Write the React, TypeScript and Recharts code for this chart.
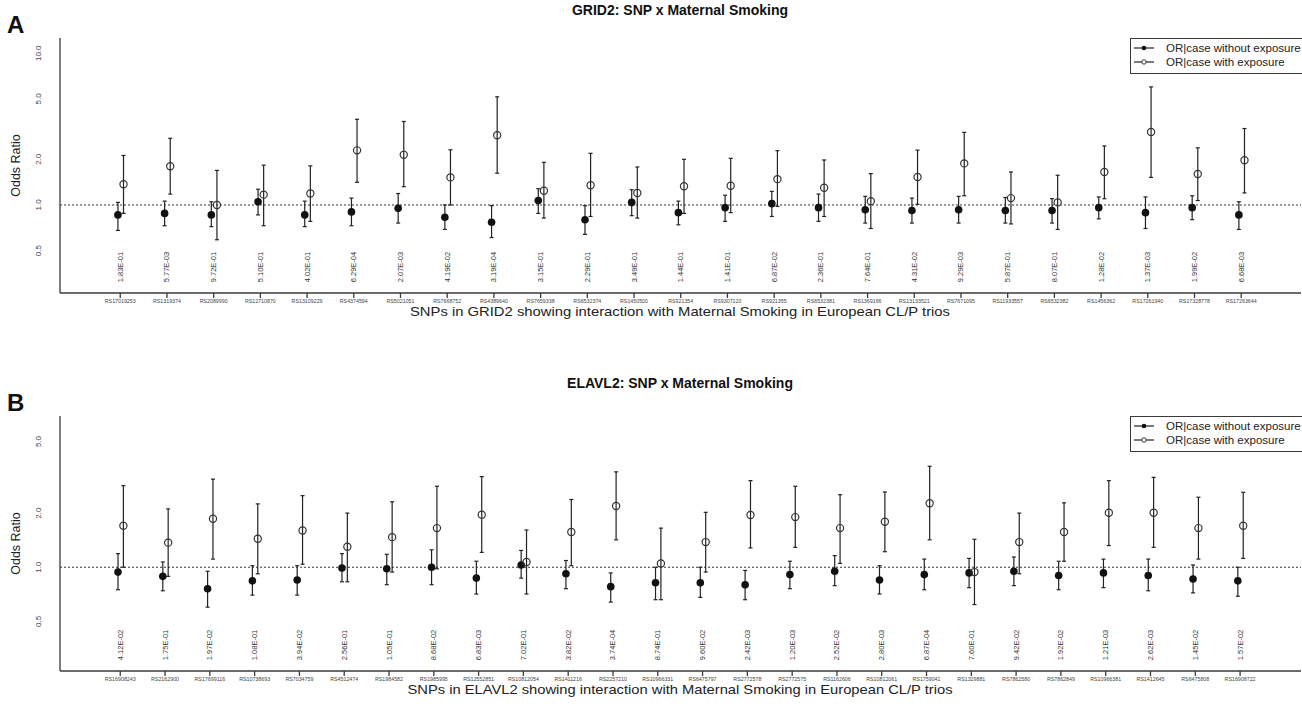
import React from 'react';
import { ScatterChart, Scatter, XAxis, YAxis, ErrorBar, ReferenceLine } from 'recharts';

// ---- Panel A: GRID2 ----
const snpsA = [
  'RS17019253', 'RS1319374', 'RS2089990', 'RS12710870', 'RS13109229', 'RS4374594', 'RS5021051',
  'RS7668752', 'RS4389640', 'RS7659338', 'RS6532374', 'RS1450500', 'RS921354', 'RS9307120',
  'RS921355', 'RS6532381', 'RS1369166', 'RS13133521', 'RS7671095', 'RS11933557', 'RS6532382',
  'RS1456362', 'RS17261940', 'RS17328778', 'RS17263644',
];
const pValsA = [
  '1.83E-01', '5.77E-03', '9.72E-01', '5.10E-01', '4.02E-01', '6.29E-04', '2.07E-03',
  '4.19E-02', '3.19E-04', '3.15E-01', '2.29E-01', '3.49E-01', '1.44E-01', '1.41E-01',
  '6.87E-02', '2.36E-01', '7.64E-01', '4.31E-02', '9.29E-03', '5.87E-01', '8.07E-01',
  '1.28E-02', '1.37E-03', '1.99E-02', '6.68E-03',
];
// OR | case without exposure
const orUnexpA = [0.86, 0.88, 0.86, 1.05, 0.86, 0.90, 0.95, 0.83, 0.77, 1.07, 0.80, 1.04, 0.89, 0.96, 1.02, 0.96, 0.93, 0.92, 0.93, 0.92, 0.92, 0.96, 0.89, 0.96, 0.86];
const loUnexpA = [0.68, 0.73, 0.72, 0.86, 0.72, 0.73, 0.76, 0.69, 0.61, 0.88, 0.64, 0.85, 0.74, 0.78, 0.84, 0.78, 0.76, 0.76, 0.76, 0.76, 0.76, 0.81, 0.70, 0.80, 0.69];
const hiUnexpA = [1.04, 1.06, 1.05, 1.27, 1.06, 1.11, 1.19, 1.00, 0.99, 1.28, 0.99, 1.26, 1.06, 1.16, 1.23, 1.18, 1.14, 1.11, 1.14, 1.12, 1.10, 1.13, 1.13, 1.15, 1.05];
// OR | case with exposure
const orExpA = [1.37, 1.80, 1.00, 1.17, 1.19, 2.29, 2.14, 1.52, 2.88, 1.24, 1.35, 1.20, 1.33, 1.34, 1.48, 1.30, 1.06, 1.53, 1.88, 1.11, 1.04, 1.65, 3.03, 1.60, 1.97];
const loExpA = [0.88, 1.18, 0.59, 0.73, 0.78, 1.41, 1.32, 1.00, 1.62, 0.82, 0.84, 0.82, 0.88, 0.89, 0.98, 0.84, 0.70, 1.01, 1.15, 0.75, 0.69, 1.10, 1.52, 1.07, 1.20];
const hiExpA = [2.12, 2.75, 1.69, 1.83, 1.81, 3.67, 3.55, 2.31, 5.16, 1.91, 2.19, 1.78, 2.00, 2.03, 2.28, 1.98, 1.61, 2.30, 3.01, 1.65, 1.57, 2.45, 6.00, 2.38, 3.19];
const yTicksA = [0.5, 1, 2, 5, 10];

// ---- Panel B: ELAVL2 ----
const snpsB = [
  'RS16908243', 'RS2162900', 'RS17699116', 'RS10738693', 'RS7034759', 'RS4512474', 'RS1984582',
  'RS1985995', 'RS12552851', 'RS10812054', 'RS1411216', 'RS2257210', 'RS10966331', 'RS6475797',
  'RS2772578', 'RS2772575', 'RS1162606', 'RS10812061', 'RS1759041', 'RS1329881', 'RS7862580',
  'RS7862849', 'RS10966381', 'RS1412645', 'RS6475808', 'RS16908722',
];
const pValsB = [
  '4.12E-02', '1.75E-01', '1.97E-02', '1.08E-01', '3.94E-02', '2.56E-01', '1.05E-01',
  '8.68E-02', '6.83E-03', '7.02E-01', '3.82E-02', '3.74E-04', '8.74E-01', '9.60E-02',
  '2.42E-03', '1.20E-03', '2.52E-02', '2.80E-03', '6.87E-04', '7.60E-01', '9.42E-02',
  '1.92E-02', '1.21E-03', '2.62E-03', '1.45E-02', '1.57E-02',
];
const orUnexpB = [0.94, 0.89, 0.76, 0.84, 0.85, 0.99, 0.98, 1.00, 0.87, 1.03, 0.92, 0.78, 0.82, 0.82, 0.80, 0.91, 0.95, 0.85, 0.91, 0.93, 0.95, 0.90, 0.93, 0.90, 0.86, 0.84];
const loUnexpB = [0.75, 0.74, 0.60, 0.70, 0.70, 0.83, 0.80, 0.80, 0.71, 0.87, 0.76, 0.64, 0.66, 0.68, 0.66, 0.76, 0.79, 0.71, 0.75, 0.77, 0.79, 0.75, 0.77, 0.74, 0.72, 0.69];
const hiUnexpB = [1.19, 1.07, 0.95, 1.02, 1.02, 1.19, 1.18, 1.25, 1.08, 1.24, 1.09, 0.93, 1.00, 1.00, 0.96, 1.08, 1.16, 1.02, 1.11, 1.12, 1.14, 1.08, 1.11, 1.11, 1.03, 1.00];
const orExpB = [1.70, 1.37, 1.86, 1.44, 1.60, 1.30, 1.47, 1.65, 1.96, 1.07, 1.57, 2.19, 1.05, 1.38, 1.95, 1.90, 1.65, 1.79, 2.27, 0.94, 1.38, 1.57, 2.01, 2.01, 1.65, 1.70];
const loExpB = [1.00, 0.89, 1.11, 0.92, 1.04, 0.83, 0.94, 0.98, 1.21, 0.71, 1.02, 1.42, 0.66, 0.94, 1.28, 1.29, 1.05, 1.22, 1.42, 0.62, 0.92, 1.08, 1.32, 1.29, 1.11, 1.12];
const hiExpB = [2.84, 2.11, 3.09, 2.25, 2.50, 2.00, 2.31, 2.82, 3.19, 1.61, 2.38, 3.39, 1.65, 2.02, 3.03, 2.82, 2.53, 2.62, 3.64, 1.43, 2.00, 2.28, 3.03, 3.16, 2.45, 2.61];
const yTicksB = [0.5, 1, 2, 5];

const legendLabels = ['OR|case without exposure', 'OR|case with exposure'];

const FONT = '"Liberation Sans", Arial, Helvetica, sans-serif';
const AXIS = '#3a3a3a';

const buildRows = (or: number[], lo: number[], hi: number[], shift: number) =>
  or.map((v, i) => ({ x: i + 1 + shift, y: v, err: [v - lo[i], hi[i] - v] }));

const FilledDot = (p: any) => <circle cx={p.cx} cy={p.cy} r={3.8} fill="#111" />;
const OpenDot = (p: any) => (
  <circle cx={p.cx} cy={p.cy} r={3.6} fill="none" stroke="#333" strokeWidth={1.2} />
);
const PLabel = (p: any) => (
  <text
    x={p.cx}
    y={p.cy}
    transform={`rotate(-90 ${p.cx} ${p.cy})`}
    textAnchor="middle"
    dominantBaseline="central"
    fontSize={7.5}
    fill="#333"
    fontFamily={FONT}
  >
    {p.payload.p}
  </text>
);

const YTick = (p: any) => (
  <text
    x={39}
    y={p.y}
    transform={`rotate(-90 39 ${p.y})`}
    textAnchor="middle"
    dominantBaseline="central"
    fontSize={8}
    fill="#444"
    fontFamily={FONT}
  >
    {Number(p.payload.value).toFixed(1)}
  </text>
);

interface PanelProps {
  snps: string[];
  pvals: string[];
  unexp: { x: number; y: number; err: number[] }[];
  exp: { x: number; y: number; err: number[] }[];
  xDomain: [number, number];
  yDomain: [number, number];
  yTicks: number[];
  pLabelY: number;
}

const Panel: React.FC<PanelProps> = ({ snps, pvals, unexp, exp, xDomain, yDomain, yTicks, pLabelY }) => {
  const ticks = snps.map((_, i) => i + 1);
  const labelRows = pvals.map((p, i) => ({ x: i + 1, y: pLabelY, p }));
  const XTick = (p: any) => (
    <text x={p.x} y={p.y + 3} textAnchor="middle" fontSize={5.3} fill="#444" fontFamily={FONT}>
      {snps[p.payload.value - 1]}
    </text>
  );
  return (
    <ScatterChart width={1302} height={330} margin={{ top: 38, right: 1, left: 0, bottom: 0 }}>
      <XAxis
        xAxisId="b"
        type="number"
        dataKey="x"
        domain={xDomain}
        ticks={ticks}
        interval={0}
        height={37}
        tickSize={5}
        tick={XTick}
        stroke={AXIS}
        strokeWidth={1.3}
        allowDataOverflow
      />
      <XAxis
        xAxisId="t"
        orientation="top"
        type="number"
        domain={xDomain}
        height={0}
        tick={false}
        tickLine={false}
        stroke={AXIS}
        strokeWidth={1.3}
        allowDataOverflow
      />
      <YAxis
        yAxisId="l"
        type="number"
        dataKey="y"
        scale="log"
        domain={yDomain}
        ticks={yTicks}
        width={60}
        tickLine={false}
        tick={YTick}
        stroke={AXIS}
        strokeWidth={1.3}
        allowDataOverflow
      />
      <YAxis
        yAxisId="r"
        orientation="right"
        type="number"
        domain={[0, 1]}
        width={0}
        tick={false}
        tickLine={false}
        stroke={AXIS}
        strokeWidth={1.3}
      />
      <ReferenceLine xAxisId="b" yAxisId="l" y={1} stroke="#333" strokeDasharray="2 2" strokeWidth={1} />
      <Scatter xAxisId="b" yAxisId="l" data={unexp} shape={FilledDot} isAnimationActive={false}>
        <ErrorBar dataKey="err" direction="y" width={2} stroke="#222" strokeWidth={1.2} />
      </Scatter>
      <Scatter xAxisId="b" yAxisId="l" data={exp} shape={OpenDot} isAnimationActive={false}>
        <ErrorBar dataKey="err" direction="y" width={2} stroke="#222" strokeWidth={1.2} />
      </Scatter>
      <Scatter xAxisId="b" yAxisId="l" data={labelRows} shape={PLabel} isAnimationActive={false} />
    </ScatterChart>
  );
};

const LegendBox: React.FC<{ top: number }> = ({ top }) => (
  <div
    style={{
      position: 'absolute',
      left: 1130,
      top,
      width: 200,
      height: 36,
      border: `1.3px solid ${AXIS}`,
      background: '#fff',
      boxSizing: 'border-box',
      fontFamily: FONT,
      fontSize: 11.5,
      color: '#222',
    }}
  >
    {legendLabels.map((label, i) => (
      <div key={label} style={{ position: 'absolute', left: 0, top: 2 + i * 14, height: 14, display: 'flex', alignItems: 'center' }}>
        <svg width={30} height={14}>
          <line x1={3} x2={23} y1={7} y2={7} stroke="#222" strokeWidth={1.2} />
          {i === 0 ? (
            <circle cx={13} cy={7} r={2.3} fill="#111" />
          ) : (
            <circle cx={13} cy={7} r={2.2} fill="#fff" stroke="#333" strokeWidth={1} />
          )}
        </svg>
        <span style={{ marginLeft: 5 }}>{label}</span>
      </div>
    ))}
  </div>
);

export default function App() {
  const unexpA = buildRows(orUnexpA, loUnexpA, hiUnexpA, -0.05);
  const expA = buildRows(orExpA, loExpA, hiExpA, 0.07);
  const unexpB = buildRows(orUnexpB, loUnexpB, hiUnexpB, -0.05);
  const expB = buildRows(orExpB, loExpB, hiExpB, 0.07);

  return (
    <div style={{ position: 'absolute', left: 0, top: 0, width: 1302, height: 725, overflow: 'hidden', background: '#fff', fontFamily: FONT }}>
      <div style={{ position: 'absolute', left: 0, top: 0 }}>
        <Panel
          snps={snpsA}
          pvals={pValsA}
          unexp={unexpA}
          exp={expA}
          xDomain={[-0.29, 26.28]}
          yDomain={[0.263, 12.6]}
          yTicks={yTicksA}
          pLabelY={0.39}
        />
      </div>
      <div style={{ position: 'absolute', left: 0, top: 378 }}>
        <Panel
          snps={snpsB}
          pvals={pValsB}
          unexp={unexpB}
          exp={expB}
          xDomain={[-0.345, 27.36]}
          yDomain={[0.265, 6.93]}
          yTicks={yTicksB}
          pLabelY={0.37}
        />
      </div>
      <LegendBox top={38} />
      <LegendBox top={416} />
      <svg width={1302} height={725} style={{ position: 'absolute', left: 0, top: 0, pointerEvents: 'none' }} fontFamily={FONT}>
        <text x={7} y={33} fontSize={24} fontWeight="bold" fill="#111">A</text>
        <text x={680} y={15} fontSize={14} fontWeight="bold" textAnchor="middle" fill="#111">GRID2: SNP x Maternal Smoking</text>
        <text x={16} y={165.5} fontSize={12.5} textAnchor="middle" dominantBaseline="central" transform="rotate(-90 16 165.5)" fill="#222">Odds Ratio</text>
        <text x={680} y={316} fontSize={13} textAnchor="middle" textLength={540} lengthAdjust="spacingAndGlyphs" fill="#222">SNPs in GRID2 showing interaction with Maternal Smoking in European CL/P trios</text>

        <text x={7} y={411} fontSize={24} fontWeight="bold" fill="#111">B</text>
        <text x={680} y={388} fontSize={14} fontWeight="bold" textAnchor="middle" fill="#111">ELAVL2: SNP x Maternal Smoking</text>
        <text x={16} y={543.5} fontSize={12.5} textAnchor="middle" dominantBaseline="central" transform="rotate(-90 16 543.5)" fill="#222">Odds Ratio</text>
        <text x={680} y={694} fontSize={13} textAnchor="middle" textLength={545} lengthAdjust="spacingAndGlyphs" fill="#222">SNPs in ELAVL2 showing interaction with Maternal Smoking in European CL/P trios</text>
      </svg>
    </div>
  );
}
